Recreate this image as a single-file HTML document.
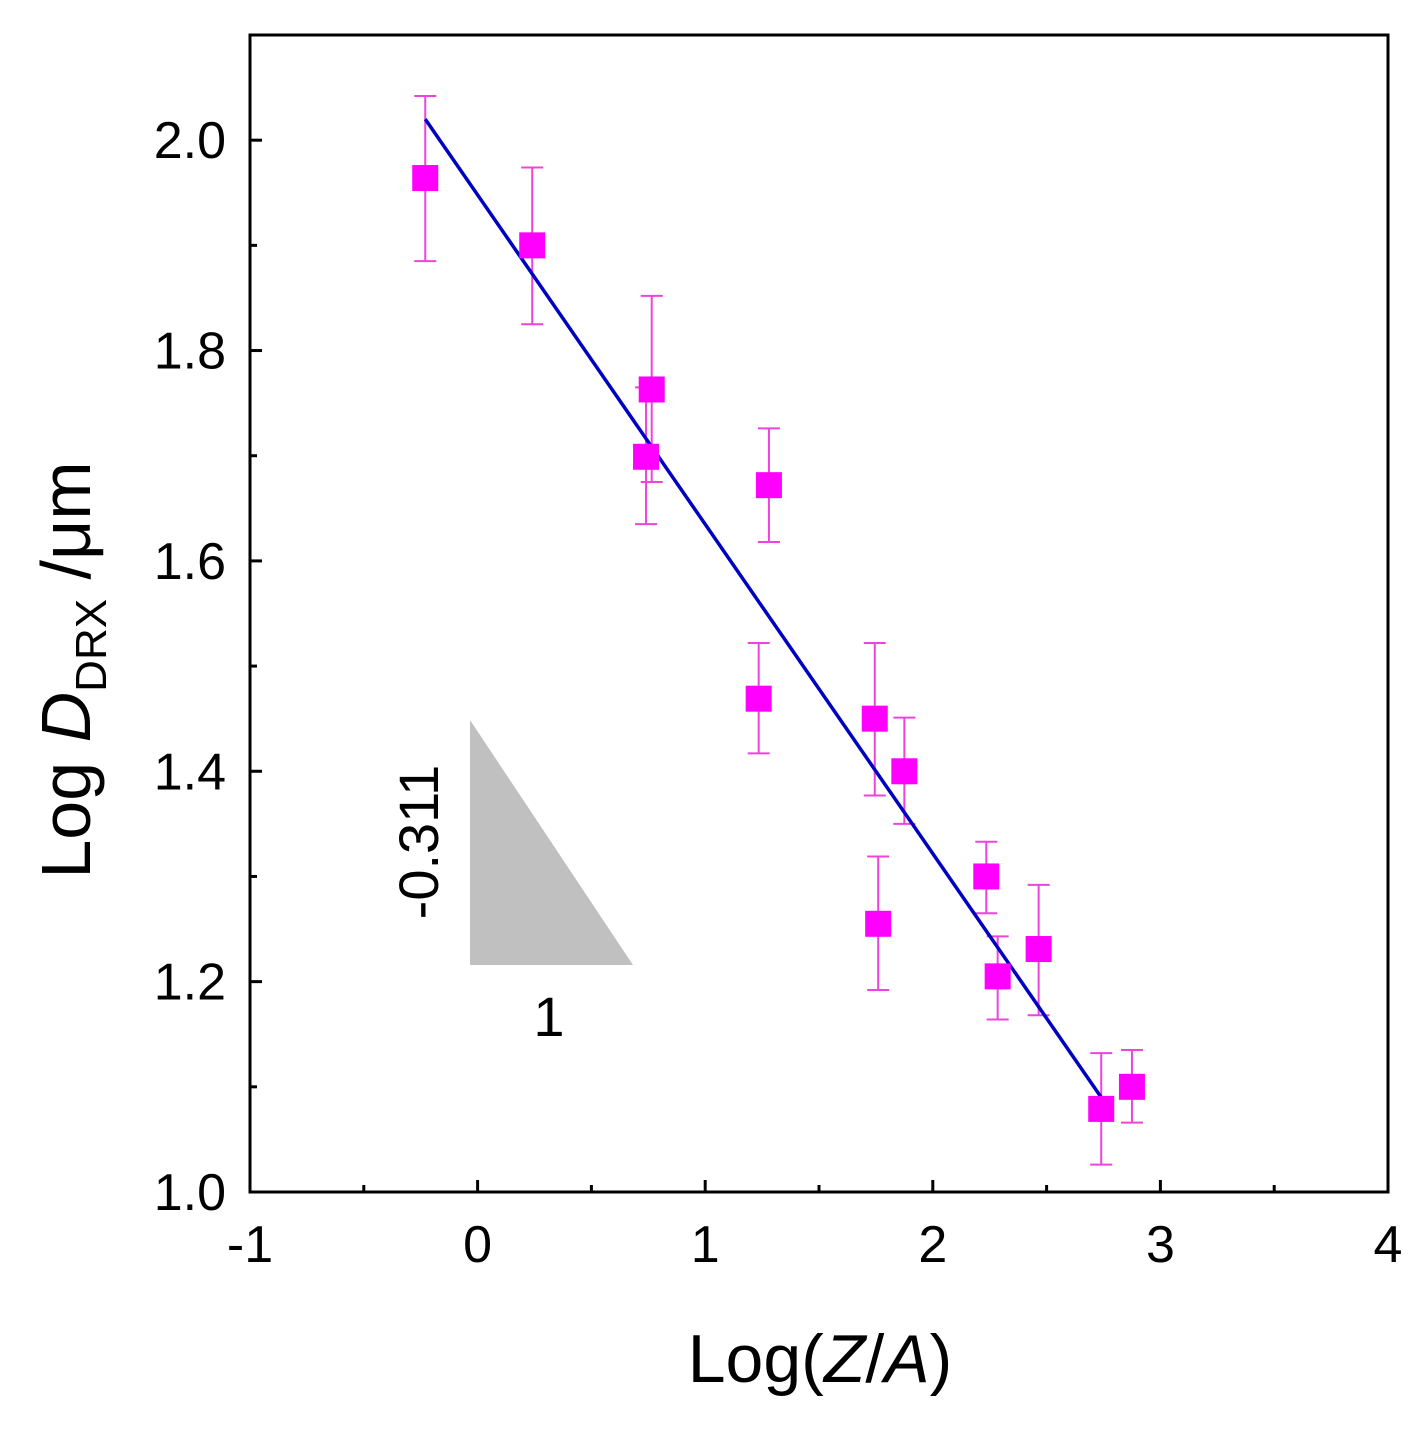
<!DOCTYPE html>
<html><head><meta charset="utf-8"><style>
body{margin:0;background:#fff}
svg text{font-family:"Liberation Sans",Arial,sans-serif;fill:#000}
</style></head><body>
<svg id="chart" width="1426" height="1430" viewBox="0 0 1426 1430">
<g id="g"></g>
</svg>
<script>
const xs=[-0.23,0.24,0.765,0.74,1.28,1.235,1.745,1.875,1.76,2.235,2.285,2.465,2.74,2.875];
const ys=[1.964,1.90,1.763,1.699,1.672,1.469,1.45,1.40,1.255,1.30,1.205,1.231,1.079,1.10];
const errHi=[2.042,1.974,1.852,1.765,1.726,1.522,1.522,1.451,1.319,1.333,1.243,1.292,1.132,1.135];
const errLo=[1.885,1.825,1.675,1.635,1.618,1.417,1.377,1.35,1.192,1.265,1.164,1.168,1.026,1.066];
const fitX=[-0.23,2.74];
const fitY=[2.020,1.090];
const xTicks=[-1,0,1,2,3,4];
const xTickLabels=["-1","0","1","2","3","4"];
const yTicks=[1.0,1.2,1.4,1.6,1.8,2.0];
const yTickLabels=["1.0","1.2","1.4","1.6","1.8","2.0"];
const L=250,R=1388,T=35,B=1192,X0=-1,X1=4,Y0=1.0,Y1=2.1;
const sx=v=>L+(v-X0)/(X1-X0)*(R-L);
const sy=v=>B-(v-Y0)/(Y1-Y0)*(B-T);
const g=document.getElementById('g');
const NS='http://www.w3.org/2000/svg';
function mk(t,a,txt){const e=document.createElementNS(NS,t);for(const k in a)e.setAttribute(k,a[k]);if(txt!==undefined)e.textContent=txt;g.appendChild(e);return e;}
let e;
e=mk('polygon',{points:'470,720 470,965 633,965',fill:'#c0c0c0'});


e=mk('text',{x:0,y:0,'font-size':56,'text-anchor':'middle',transform:'translate(438,842) rotate(-90)'},'-0.311');


e=mk('text',{x:549,y:1036,'font-size':56,'text-anchor':'middle'},'1');


e=mk('rect',{x:L,y:T,width:R-L,height:B-T,fill:'none',stroke:'#000','stroke-width':3});


xTicks.forEach((v,i)=>{
  e=mk('line',{x1:sx(v),x2:sx(v),y1:B,y2:B-12,stroke:'#000','stroke-width':3});
  
  
  if(i<xTicks.length-1){e=mk('line',{x1:sx(v+0.5),x2:sx(v+0.5),y1:B,y2:B-7,stroke:'#000','stroke-width':3});
  
  }
  e=mk('text',{x:sx(v),y:B+70,'font-size':52,'text-anchor':'middle'},xTickLabels[i]);
  
  
});
yTicks.forEach((v,i)=>{
  e=mk('line',{x1:L,x2:L+12,y1:sy(v),y2:sy(v),stroke:'#000','stroke-width':3});
  
  
  e=mk('line',{x1:L,x2:L+7,y1:sy(v+0.1),y2:sy(v+0.1),stroke:'#000','stroke-width':3});
  
  
  e=mk('text',{x:L-24,y:sy(v)+18,'font-size':52,'text-anchor':'end'},yTickLabels[i]);
  
  
});
xs.forEach((v,i)=>{
  const x=sx(v);
  e=mk('path',{d:`M${x},${sy(errHi[i])}V${sy(errLo[i])}M${x-11},${sy(errHi[i])}h22M${x-11},${sy(errLo[i])}h22`,stroke:'#ee44dd','stroke-width':2,fill:'none'});
  
  
});
e=mk('line',{x1:sx(fitX[0]),y1:sy(fitY[0]),x2:sx(fitX[1]),y2:sy(fitY[1]),stroke:'#0000c0','stroke-width':3.5});


xs.forEach((v,i)=>{
  e=mk('rect',{x:sx(v)-13,y:sy(ys[i])-13,width:26,height:26,fill:'#ff00ff'});
  
  
});
e=mk('text',{x:820,y:1382,'font-size':68,'text-anchor':'middle'},'');
e.innerHTML='Log(<tspan font-style="italic">Z</tspan>/<tspan font-style="italic">A</tspan>)';


e=mk('text',{x:0,y:0,'font-size':70,'text-anchor':'middle',transform:'translate(90,670) rotate(-90)'},'');
e.innerHTML='Log <tspan font-style="italic">D</tspan><tspan font-size="44" dy="16">DRX</tspan><tspan dy="-16"> /μm</tspan>';


</script>
</body></html>
